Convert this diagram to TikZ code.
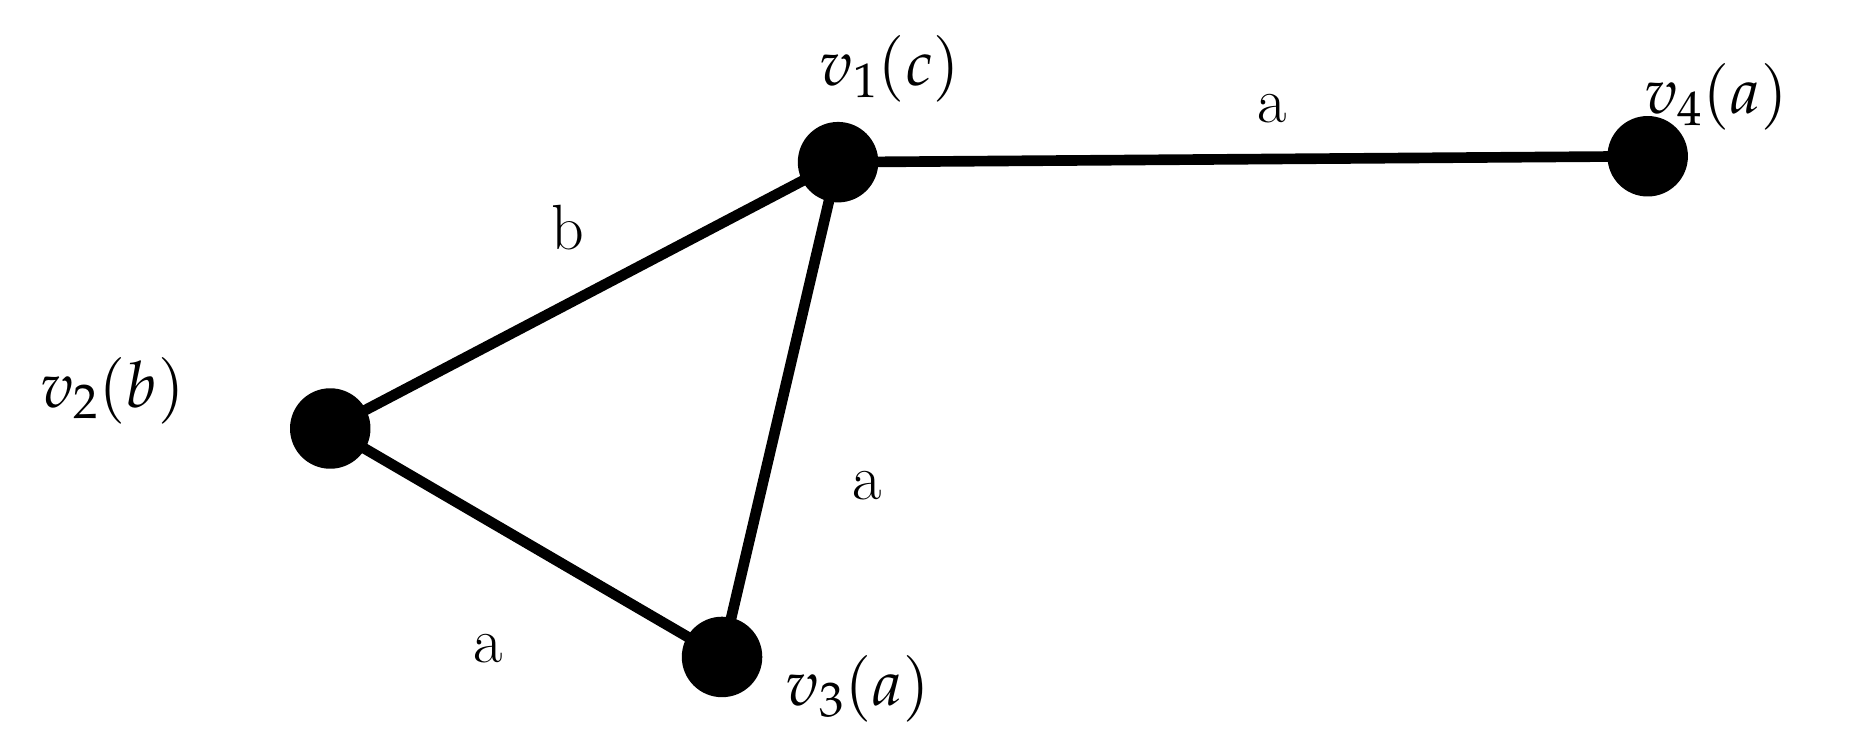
\documentclass[tikz,border=0pt]{standalone}
\usepackage{mathpazo}
\begin{document}
\begin{tikzpicture}[x=1pt,y=-1pt,
 v/.style={circle,fill=black,inner sep=0pt,minimum size=68pt},
 e/.style={line width=9pt},
 lb/.style={font=\fontsize{54}{60}\selectfont,inner sep=0pt},
 el/.style={font=\fontsize{54}{60}\selectfont,inner sep=0pt}]
\useasboundingbox (0,0) rectangle (1568,638);
\node[v] (v1) at (708,137) {};
\node[v] (v2) at (279,362) {};
\node[v] (v3) at (610,555) {};
\node[v] (v4) at (1392,132) {};
\draw[e] (v1.center) -- (v4.center);
\draw[e] (v1.center) -- (v2.center);
\draw[e] (v1.center) -- (v3.center);
\draw[e] (v2.center) -- (v3.center);
\node[lb] (l1) at (752,58) {$v_1(c)$};
\node[lb] (l2) at (95,330) {$v_2(b)$};
\node[lb] (l3) at (725,582) {$v_3(a)$};
\node[lb] (l4) at (1450,82) {$v_4(a)$};
\node[el] (a1) at (1075,92) {a};
\node[el] (b1) at (480,192) {b};
\node[el] (a2) at (733,410) {a};
\node[el] (a3) at (412,548) {a};
\end{tikzpicture}
\end{document}
